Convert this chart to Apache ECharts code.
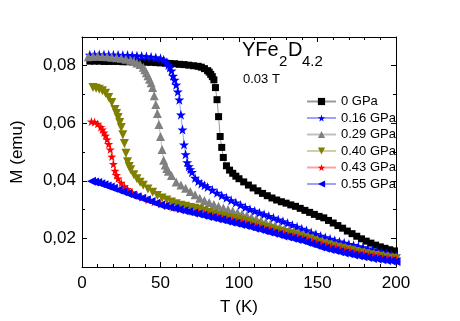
<!DOCTYPE html>
<html>
<head>
<meta charset="utf-8">
<script src="https://cdn.jsdelivr.net/npm/echarts@6/dist/echarts.min.js"></script>
<style>html,body{margin:0;padding:0;background:#fff}#c{width:460px;height:321px}</style>
</head>
<body>
<div id="c"></div>
<script>
// ---- data: [T (K), M (emu)] ----
const seriesNames = ['0 GPa', '0.16 GPa', '0.29 GPa', '0.40 GPa', '0.43 GPa', '0.55 GPa'];
const p000 = [[5,.0816],[8,.0816],[11,.0816],[14,.0815],[17,.0815],[20,.0815],[23,.0815],[26,.0814],[29,.0814],[32,.0814],[35,.0813],[38,.0813],[41,.0812],[44,.0812],[47,.0811],[50,.0810],[53,.0809],[56,.0808],[59,.0807],[62,.0805],[65,.0804],[68,.0802],[71,.0800],[74,.0798],[76,.0795],[78,.0790],[80,.0783],[81,.0778],[82,.0770],[83,.0762],[84,.0751],[85,.0724],[86,.0682],[87,.0623],[88,.0554],[89,.0516],[90,.0481],[92,.0452],[94,.0437],[96,.0426],[98,.0416],[100,.0407],[103,.0396],[106,.0385],[109,.0375],[112,.0365],[115,.0356],[118,.0348],[121,.0340],[124,.0333],[127,.0327],[130,.0322],[133,.0316],[136,.0311],[139,.0304],[142,.0297],[145,.0290],[148,.0283],[151,.0276],[154,.0271],[157,.0262],[160,.0253],[163,.0244],[166,.0235],[169,.0225],[172,.0216],[175,.0207],[178,.0198],[181,.0190],[184,.0183],[187,.0176],[190,.0170],[193,.0165],[196,.0160],[199,.0156]];
const p016 = [[5,.0838],[8,.0839],[11,.0839],[14,.0839],[17,.0838],[20,.0838],[23,.0838],[26,.0837],[29,.0837],[32,.0836],[35,.0835],[38,.0834],[41,.0833],[44,.0831],[47,.0829],[50,.0826],[52,.0821],[54,.0812],[55,.0803],[56,.0794],[57,.0783],[58,.0765],[59,.0751],[60,.0734],[61,.0710],[62,.0682],[63,.0630],[64,.0578],[65,.0526],[66,.0492],[67,.0464],[68,.0450],[69,.0440],[70,.0430],[72,.0410],[74,.0398],[76,.0390],[78,.0384],[80,.0378],[83,.0368],[86,.0358],[89,.0349],[92,.0341],[95,.0332],[98,.0324],[101,.0316],[104,.0308],[107,.0301],[110,.0295],[113,.0289],[116,.0283],[119,.0277],[122,.0271],[125,.0265],[128,.0259],[131,.0253],[134,.0246],[137,.0240],[140,.0233],[143,.0227],[146,.0220],[149,.0214],[152,.0208],[155,.0203],[158,.0198],[161,.0193],[164,.0188],[167,.0184],[170,.0180],[173,.0176],[176,.0172],[179,.0168],[182,.0164],[185,.0160],[188,.0156],[191,.0152],[194,.0148],[197,.0144],[200,.0140]];
const p029 = [[4,.0831],[7,.0833],[10,.0833],[13,.0832],[16,.0831],[19,.0830],[22,.0828],[25,.0826],[28,.0823],[31,.0819],[33,.0815],[35,.0810],[37,.0804],[39,.0795],[40,.0786],[41,.0776],[42,.0765],[43,.0753],[44,.0741],[45,.0724],[46,.0696],[47,.0665],[48,.0634],[49,.0596],[50,.0554],[51,.0509],[52,.0471],[53,.0455],[54,.0443],[55,.0433],[57,.0418],[60,.0396],[63,.0385],[66,.0374],[69,.0363],[72,.0351],[75,.0339],[78,.0331],[81,.0324],[84,.0317],[87,.0311],[90,.0305],[93,.0300],[96,.0295],[99,.0290],[102,.0284],[105,.0279],[108,.0273],[111,.0268],[114,.0262],[117,.0256],[120,.0250],[123,.0244],[126,.0238],[129,.0233],[132,.0229],[135,.0224],[138,.0219],[141,.0214],[144,.0208],[147,.0202],[150,.0196],[153,.0191],[156,.0186],[159,.0181],[162,.0176],[165,.0172],[168,.0168],[171,.0164],[174,.0160],[177,.0156],[180,.0153],[183,.0150],[186,.0147],[189,.0144],[192,.0141],[195,.0139],[198,.0136],[200,.0134]];
const p040 = [[7,.0724],[9,.0722],[11,.0718],[13,.0713],[15,.0704],[17,.0690],[19,.0672],[21,.0648],[22,.0634],[23,.0620],[24,.0603],[25,.0585],[26,.0560],[27,.0530],[28,.0496],[29,.0466],[30,.0450],[31,.0438],[33,.0421],[35,.0407],[37,.0395],[39,.0384],[42,.0371],[45,.0360],[48,.0349],[51,.0340],[54,.0333],[57,.0326],[60,.0320],[63,.0315],[66,.0311],[69,.0307],[72,.0304],[75,.0300],[78,.0295],[81,.0290],[84,.0285],[87,.0280],[90,.0276],[93,.0272],[96,.0269],[99,.0266],[102,.0262],[105,.0257],[108,.0252],[111,.0247],[114,.0242],[117,.0237],[120,.0233],[123,.0228],[126,.0224],[129,.0220],[132,.0216],[135,.0212],[138,.0208],[141,.0203],[144,.0198],[147,.0192],[150,.0186],[153,.0181],[156,.0177],[159,.0173],[162,.0169],[165,.0165],[168,.0161],[171,.0158],[174,.0154],[177,.0150],[180,.0146],[183,.0143],[186,.0140],[189,.0137],[192,.0134],[195,.0131],[198,.0129],[200,.0128]];
const p043 = [[6,.0606],[8,.0604],[10,.0598],[12,.0587],[13,.0578],[14,.0568],[15,.0557],[16,.0544],[17,.0528],[18,.0509],[19,.0484],[20,.0458],[21,.0435],[22,.0420],[23,.0408],[25,.0393],[27,.0381],[29,.0371],[32,.0360],[35,.0351],[38,.0343],[42,.0334],[46,.0326],[50,.0319],[54,.0313],[58,.0307],[62,.0302],[66,.0298],[70,.0294],[74,.0290],[78,.0285],[81,.0281],[84,.0277],[87,.0273],[90,.0269],[93,.0265],[96,.0262],[99,.0259],[102,.0255],[105,.0251],[108,.0246],[111,.0241],[114,.0237],[117,.0232],[120,.0228],[123,.0223],[126,.0219],[129,.0215],[132,.0211],[135,.0207],[138,.0203],[141,.0199],[144,.0194],[147,.0189],[150,.0184],[153,.0179],[156,.0175],[159,.0171],[162,.0167],[165,.0163],[168,.0159],[171,.0156],[174,.0152],[177,.0149],[180,.0145],[183,.0142],[186,.0139],[189,.0136],[192,.0133],[195,.0130],[198,.0128],[200,.0127]];
const p055 = [[6,.0398],[8,.0396],[10,.0394],[12,.0390],[14,.0386],[16,.0382],[18,.0378],[20,.0374],[23,.0368],[26,.0362],[29,.0356],[32,.0350],[35,.0344],[38,.0339],[41,.0334],[44,.0328],[47,.0322],[50,.0316],[53,.0312],[56,.0308],[59,.0304],[62,.0300],[65,.0296],[68,.0292],[71,.0288],[74,.0284],[77,.0280],[80,.0276],[83,.0272],[86,.0268],[89,.0264],[92,.0260],[95,.0256],[98,.0252],[101,.0248],[104,.0244],[107,.0240],[110,.0235],[113,.0231],[116,.0226],[119,.0222],[122,.0217],[125,.0213],[128,.0208],[131,.0204],[134,.0200],[137,.0196],[140,.0192],[143,.0186],[146,.0181],[149,.0176],[152,.0170],[155,.0165],[158,.0161],[161,.0157],[164,.0153],[167,.0149],[170,.0146],[173,.0142],[176,.0139],[179,.0136],[182,.0133],[185,.0130],[188,.0128],[191,.0125],[194,.0123],[197,.0121],[200,.0119]];
const xTicks = [0, 50, 100, 150, 200];
const yMajor = [0.02, 0.04, 0.06, 0.08];
const yMinor = [0.01, 0.03, 0.05, 0.07, 0.09];

// ---- styling ----
const FONT = 'Liberation Sans, Arial, sans-serif';
const STAR = 'path://M50,0 L61.8,35.1 98.5,35.5 69.1,57.5 79.4,90.5 50,70 20.6,90.5 30.9,57.5 1.5,35.5 38.2,35.1Z';
const TRI_DOWN = 'path://M0,0 L10,0 5,9Z';
const TRI_LEFT = 'path://M0,5 L9,0 9,10Z';
const styles = [
  {data: p000, symbol: 'rect', size: 7, color: '#000000', line: '#999999'},
  {data: p016, symbol: STAR, size: 10, color: '#0000ff', line: '#a0a0ff'},
  {data: p029, symbol: 'triangle', size: 9, color: '#808080', line: '#c0c0c0'},
  {data: p040, symbol: TRI_DOWN, size: 9, color: '#808000', line: '#d0d0a8'},
  {data: p043, symbol: STAR, size: 9, color: '#ff0000', line: '#ffa0a0'},
  {data: p055, symbol: TRI_LEFT, size: 9, color: '#0000ff', line: '#a0a0ff'}
];

const fmt = v => v.toFixed(2).replace('.', ',');
const axisLine = {show: true, lineStyle: {color: '#000', width: 1}};

const chart = echarts.init(document.getElementById('c'), null, {renderer: 'canvas'});
chart.setOption({
  animation: false,
  backgroundColor: '#fff',
  grid: {left: 82, right: 64, top: 37, bottom: 54},
  legend: {
    left: 301, top: 90, orient: 'vertical',
    itemWidth: 29, itemHeight: 9, itemGap: 3.5,
    data: seriesNames,
    textStyle: {fontFamily: FONT, fontSize: 13, color: '#000', lineHeight: 13}
  },
  xAxis: [
    {type: 'value', position: 'bottom', min: 0, max: 200, interval: 50,
     axisLine, splitLine: {show: false},
     axisTick: {inside: true, length: 5, lineStyle: {color: '#000'}},
     minorTick: {show: true, splitNumber: 5, length: 3, lineStyle: {color: '#000'}},
     axisLabel: {fontFamily: FONT, fontSize: 17, color: '#000', margin: 8},
     name: 'T (K)', nameLocation: 'middle', nameGap: 32,
     nameTextStyle: {fontFamily: FONT, fontSize: 17, color: '#000'}},
    {type: 'value', position: 'top', min: 0, max: 200, interval: 50,
     axisLine, splitLine: {show: false},
     axisTick: {inside: true, length: 5, lineStyle: {color: '#000'}},
     minorTick: {show: true, splitNumber: 5, length: 3, lineStyle: {color: '#000'}},
     axisLabel: {show: false}}
  ],
  yAxis: [
    {type: 'value', position: 'left', min: 0.01, max: 0.09,
     axisLine, splitLine: {show: false},
     axisTick: {inside: true, length: 5, customValues: yMajor, lineStyle: {color: '#000'}},
     axisLabel: {customValues: yMajor, formatter: fmt, fontFamily: FONT, fontSize: 17, color: '#000', margin: 6},
     name: 'M (emu)', nameLocation: 'middle', nameGap: 56,
     nameTextStyle: {fontFamily: FONT, fontSize: 17, color: '#000'}},
    {type: 'value', position: 'left', offset: 0, min: 0.01, max: 0.09,
     axisLine: {show: false}, splitLine: {show: false},
     axisTick: {inside: true, length: 3, customValues: yMinor, lineStyle: {color: '#000'}},
     axisLabel: {show: false}},
    {type: 'value', position: 'right', offset: 0, min: 0.01, max: 0.09,
     axisLine, splitLine: {show: false},
     axisTick: {inside: true, length: 5, customValues: yMajor, lineStyle: {color: '#000'}},
     axisLabel: {show: false}},
    {type: 'value', position: 'right', offset: 0, min: 0.01, max: 0.09,
     axisLine: {show: false}, splitLine: {show: false},
     axisTick: {inside: true, length: 3, customValues: yMinor, lineStyle: {color: '#000'}},
     axisLabel: {show: false}}
  ],
  series: styles.map((s, i) => ({
    name: seriesNames[i], type: 'line', xAxisIndex: 0, yAxisIndex: 0,
    data: s.data, symbol: s.symbol, symbolSize: s.size, showSymbol: true,
    lineStyle: {color: s.line, width: 1},
    itemStyle: {color: s.color},
    emphasis: {disabled: true}, z: 2 + i
  })),
  graphic: [
    {type: 'text', x: 242, y: 40, style: {text: 'YFe', font: '20px ' + FONT, fill: '#000'}},
    {type: 'text', x: 279, y: 54, style: {text: '2', font: '15px ' + FONT, fill: '#000'}},
    {type: 'text', x: 288, y: 40, style: {text: 'D', font: '20px ' + FONT, fill: '#000'}},
    {type: 'text', x: 302, y: 54, style: {text: '4.2', font: '15px ' + FONT, fill: '#000'}},
    {type: 'text', x: 243, y: 73, style: {text: '0.03 T', font: '13px ' + FONT, fill: '#000'}}
  ]
});
</script>
</body>
</html>
